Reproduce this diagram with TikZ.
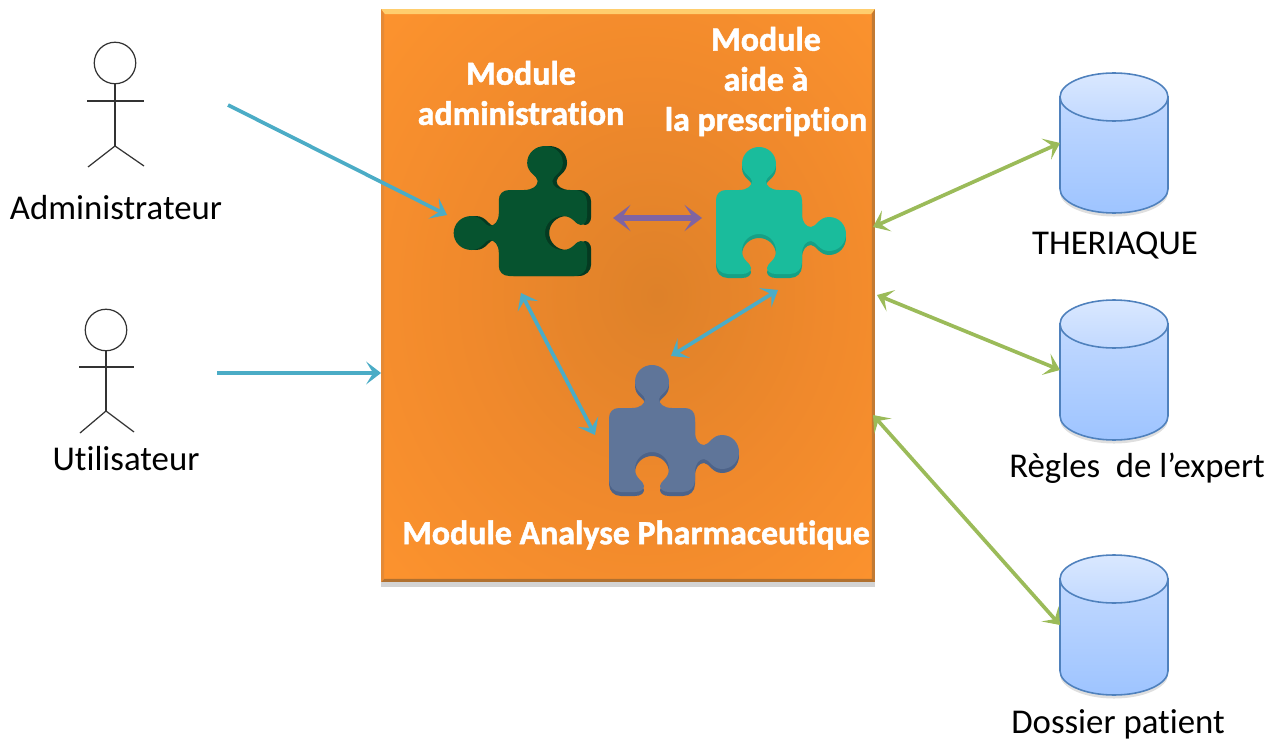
\documentclass[tikz,border=0pt]{standalone}
\usepackage{fontspec}
\setmainfont{Carlito}[Ligatures=NoCommon]
\newfontfamily\modulefont{Carlito Bold}[Ligatures=NoCommon,FakeBold=1.4]
\usetikzlibrary{arrows.meta,shadows}
\definecolor{aqualine}{HTML}{4BACC6}
\definecolor{greenline}{HTML}{9BBB59}
\definecolor{purpleline}{HTML}{8064A2}
\definecolor{cylline}{HTML}{4F81BD}
\definecolor{cylhigh}{HTML}{DAE8FF}
\definecolor{cylmid}{HTML}{C2D9FF}
\definecolor{cyllow}{HTML}{9EC4FF}
\pgfdeclareradialshading{boxglow}{\pgfpoint{3bp}{0bp}}{rgb(0bp)=(0.87,0.506,0.16);rgb(18bp)=(0.94,0.537,0.172);rgb(36bp)=(0.99,0.576,0.18);rgb(50bp)=(1,0.596,0.184)}
\tikzstyle{actorhead}=[circle,draw=black!80,line width=0.7pt,minimum size=0.83cm,inner sep=0pt]
\tikzstyle{actorline}=[draw=black!80,line width=0.7pt]
\tikzstyle{label}=[inner sep=0pt,font=\fontsize{19.8}{24}\selectfont,text=black]
\tikzstyle{module}=[inner sep=0pt,align=center,text=white,font=\modulefont\fontsize{19.3}{22.8}\selectfont]
\tikzstyle{dbbox}=[rectangle,minimum width=2.16cm,minimum height=2.8cm,inner sep=0pt,outer sep=0pt]
\tikzstyle{link}=[line width=2.1pt,>={Stealth[length=8.5pt,width=13pt,inset=4pt]}]
\tikzstyle{biglink}=[line width=3.2pt,>={Stealth[length=10pt,width=15pt,inset=5pt]}]
\newcommand{\database}[3]{
\node[dbbox] at (#2,#3) (#1) {};
\begin{scope}[shift={(#2,#3)}]
\path[draw=cylline,line width=0.9pt,top color=cylmid,bottom color=cyllow,drop shadow={shadow xshift=0pt,shadow yshift=-2pt,opacity=0.25}] (-54,-46) -- (-54,46) .. controls (-54,59) and (-30,70) .. (0,70) .. controls (30,70) and (54,59) .. (54,46) -- (54,-46) -- cycle;
\path[draw=cylline,line width=0.9pt,top color=cylhigh,bottom color=cylmid] (0,-46) ellipse [x radius=54,y radius=24];
\end{scope}
}
\newcommand{\puzzlepiece}[5]{
\begin{scope}[shift={(#1,#2)},#3]
\foreach \col/\dy in {#5/4,#4/0} {
\fill[\col,shift={(0,\dy)}] (-33,-44) -- (-20,-44) .. controls (-12,-44) and (-7,-48) .. (-7,-53) .. controls (-7,-57) and (-17,-60) .. (-17,-70) .. controls (-17,-80) and (-9,-87) .. (0,-87) .. controls (9,-87) and (17,-80) .. (17,-70) .. controls (17,-60) and (7,-57) .. (7,-53) .. controls (7,-48) and (12,-44) .. (20,-44) -- (33,-44) .. controls (39,-44) and (43,-40) .. (43,-34) -- (43,-20) .. controls (43,-12) and (47,-7) .. (52,-7) .. controls (57,-7) and (60,-17) .. (70,-17) .. controls (80,-17) and (87,-9) .. (87,0) .. controls (87,9) and (80,17) .. (70,17) .. controls (60,17) and (57,7) .. (52,7) .. controls (47,7) and (43,12) .. (43,20) -- (43,28) .. controls (43,35) and (38,40) .. (31,40) -- (17,40) .. controls (11,40) and (8,37) .. (8,34) .. controls (8,29) and (17,27) .. (17,17) .. controls (17,7) and (9,0) .. (0,0) .. controls (-9,0) and (-17,7) .. (-17,17) .. controls (-17,27) and (-8,29) .. (-8,34) .. controls (-8,37) and (-11,40) .. (-17,40) -- (-31,40) .. controls (-38,40) and (-43,35) .. (-43,28) -- (-43,-34) .. controls (-43,-40) and (-39,-44) .. (-33,-44) -- cycle;
}
\end{scope}
}

\begin{document}
\begin{tikzpicture}[x=0.02cm,y=-0.02cm]
\useasboundingbox (0,0) rectangle (1281,740);

% actors
\node[actorhead] at (115,63) (adminhead) {};
\coordinate (adminhip) at (115,146);
\draw[actorline] (adminhead) -- (adminhip);
\coordinate (adminarml) at (87,101);
\coordinate (adminarmr) at (144,101);
\draw[actorline] (adminarml) -- (adminarmr);
\coordinate (adminfootl) at (88,167);
\coordinate (adminfootr) at (144,166);
\draw[actorline] (adminfootl) -- (adminhip) -- (adminfootr);
\node[label] at (116,208) (admin) {Administrateur};

\node[actorhead] at (106,330) (userhead) {};
\coordinate (userhip) at (106,411);
\draw[actorline] (userhead) -- (userhip);
\coordinate (userarml) at (79,367);
\coordinate (userarmr) at (134,367);
\draw[actorline] (userarml) -- (userarmr);
\coordinate (userfootl) at (80,433);
\coordinate (userfootr) at (134,432);
\draw[actorline] (userfootl) -- (userhip) -- (userfootr);
\node[label] at (126,459) (user) {Utilisateur};

% orange box
\node[rectangle,minimum width=9.88cm,minimum height=11.46cm,inner sep=0pt,outer sep=0pt,shading=boxglow,drop shadow={shadow xshift=0pt,shadow yshift=-3pt,opacity=0.35}] at (628,295.5) (box) {};
\definecolor{bevtop}{HTML}{FFCE6E}
\definecolor{bevright}{HTML}{C27A33}
\definecolor{bevbottom}{HTML}{B0702F}
\definecolor{bevleft}{HTML}{E58A35}
\fill[bevtop] (box.north west) -- (box.north east) -- ++(-4,5) -- ++(-486,0) -- cycle;
\fill[bevright] (box.north east) -- (box.south east) -- ++(-3,-3) -- ++(0,-565) -- cycle;
\fill[bevbottom] (box.south west) -- (box.south east) -- ++(-3,-3) -- ++(-488,0) -- cycle;
\fill[bevleft] (box.north west) -- (box.south west) -- ++(3,-3) -- ++(0,-565) -- cycle;

% puzzle pieces
\definecolor{admindark}{HTML}{06532F}
\definecolor{adminshade}{HTML}{043A21}
\definecolor{aidefill}{HTML}{1ABC9C}
\definecolor{aideshade}{HTML}{16A085}
\definecolor{analysefill}{HTML}{5F7599}
\definecolor{analyseshade}{HTML}{4D6389}
\puzzlepiece{545}{233}{rotate=90,yscale=1.05}{admindark}{adminshade}
\puzzlepiece{759}{234}{rotate=0}{aidefill}{aideshade}
\puzzlepiece{652}{452}{rotate=0}{analysefill}{analyseshade}

\node[module] at (521,93) (admintitle) {Module\\administration};
\node[module] at (766,81.5) (aidetitle) {Module\\aide à\\la prescription};
\node[module] at (636,535) (analysetitle) {Module Analyse Pharmaceutique};

% databases
\database{theriaque}{1114}{143}
\database{regles}{1114}{370}
\database{dossier}{1114}{625}
\node[label] at (1115,246) (theriaquetext) {THERIAQUE};
\node[label] at (1137,468) (reglestext) {Règles\ \ de l’expert};
\node[label] at (1118,724) (dossiertext) {Dossier patient};

% free ends of the links
\coordinate (adminout) at (228,105);
\coordinate (adminin) at (447,215);
\coordinate (userout) at (217,373);
\coordinate (purplel) at (613,218);
\coordinate (purpler) at (702,218);
\coordinate (blueatop) at (521,293);
\coordinate (blueabot) at (595,435);
\coordinate (bluebtop) at (778,290);
\coordinate (bluebbot) at (671,356);
\coordinate (boxa) at (873,227);
\coordinate (boxb) at (877,295);
\coordinate (boxc) at (873,415);

\draw[->,link,aqualine] (adminout) -- (adminin);
\draw[->,link,aqualine] (userout) -- (box.west |- userout);
\draw[<->,biglink,purpleline] (purplel) -- (purpler);
\draw[<->,link,aqualine] (blueatop) -- (blueabot);
\draw[<->,link,aqualine] (bluebtop) -- (bluebbot);
\draw[<->,link,greenline] (boxa) -- (theriaque.west);
\draw[<->,link,greenline] (boxb) -- (regles.west);
\draw[<->,link,greenline] (boxc) -- (dossier.west);
\end{tikzpicture}
\end{document}
